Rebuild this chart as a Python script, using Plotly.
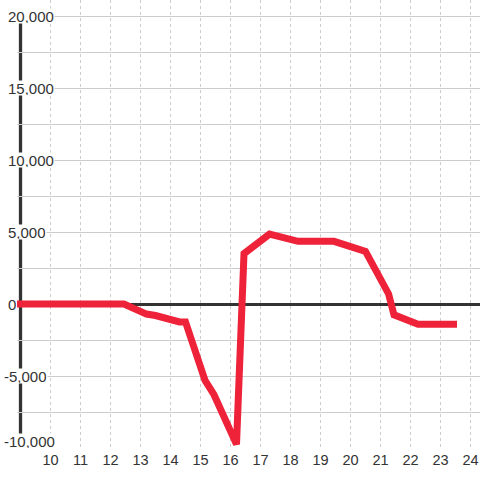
import plotly.graph_objects as go

# data
hours = [8.8, 12.45, 13.2, 13.5, 14.3, 14.5, 15.15, 15.45, 16.2, 16.45, 17.3,
         18.25, 19.45, 20.5, 21.27, 21.45, 22.25, 23.55]
values = [0, 0, -700, -800, -1250, -1250, -5300, -6300, -9750, 3500, 4850,
          4350, 4350, 3650, 700, -750, -1400, -1400]

x_ticks = list(range(10, 25))
x_tick_text = [str(v) for v in x_ticks]
y_label_vals = [20000, 15000, 10000, 5000, 0, -5000, -10000]
y_label_text = ["20,000", "15,000", "10,000", "5,000", "0", "-5,000", "-10,000"]

INK = "#333333"
GRID = "#cccccc"
FONT = "Liberation Sans, Arial, sans-serif"

fig = go.Figure()
fig.add_trace(go.Scatter(
    x=hours, y=values, mode="lines",
    line=dict(color="#ee2239", width=7),
    hoverinfo="skip", showlegend=False,
))

# vertical axis line at x=9
fig.add_shape(type="line", xref="x", yref="y", x0=9, x1=9,
              y0=y_label_vals[-1], y1=y_label_vals[0],
              line=dict(color=INK, width=3.3), layer="below")

for v, t in zip(y_label_vals, y_label_text):
    fig.add_annotation(
        x=0, xref="paper", y=v, yref="y", text=t, showarrow=False,
        xanchor="left", yanchor="middle",
        xshift=-10.5 if v >= 0 else -14.5,
        yshift=7 if v == y_label_vals[-1] else 0,
        font=dict(family=FONT, size=15, color=INK),
        bgcolor="white", borderpad=0, height=14,
    )

fig.update_layout(
    width=480, height=480,
    margin=dict(l=17, r=0, t=0, b=31),
    paper_bgcolor="white", plot_bgcolor="white",
    showlegend=False,
    xaxis=dict(
        range=[8.883, 24.317], tickvals=x_ticks, ticktext=x_tick_text,
        showgrid=True, gridcolor=GRID, gridwidth=1, griddash="dot",
        zeroline=False, showline=False, ticks="",
        tickfont=dict(family=FONT, size=14.5, color=INK),
    ),
    yaxis=dict(
        range=[-10069, 21111], dtick=2500, tick0=0,
        showgrid=True, gridcolor=GRID, gridwidth=1,
        zeroline=True, zerolinecolor=INK, zerolinewidth=3.3,
        showline=False, ticks="", showticklabels=False,
    ),
)

fig.write_html("out.html", config={"displayModeBar": False},
               post_script="document.body.style.margin='0';document.body.style.padding='0';")
